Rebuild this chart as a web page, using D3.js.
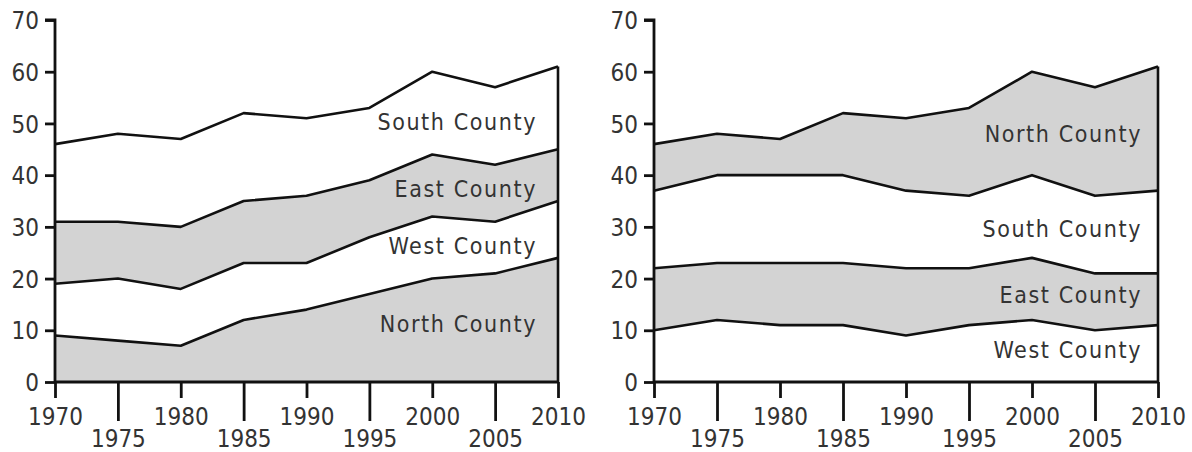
<!DOCTYPE html>
<html>
<head>
<meta charset="utf-8">
<script src="https://cdn.jsdelivr.net/npm/d3@7"></script>
<style>
  html, body { margin: 0; padding: 0; background: #fff; }
  svg { display: block; }
  text { font-family: "DejaVu Sans Condensed", "DejaVu Sans", sans-serif; fill: #333; }
</style>
</head>
<body>
<svg id="chart" width="1192" height="452"></svg>
<script>
const years = [1970, 1975, 1980, 1985, 1990, 1995, 2000, 2005, 2010];
const north = [9, 8, 7, 12, 14, 17, 20, 21, 24];
const west  = [10, 12, 11, 11, 9, 11, 12, 10, 11];
const east  = [12, 11, 12, 12, 13, 11, 12, 11, 10];
const south = [15, 17, 17, 17, 15, 14, 16, 15, 16];
const yTicks = [0, 10, 20, 30, 40, 50, 60, 70];

const seriesNames = {north: "North County", west: "West County", east: "East County", south: "South County"};
const rows = years.map((y, i) => ({year: y, north: north[i], west: west[i], east: east[i], south: south[i]}));

const leftOrder = ["north", "west", "east", "south"];
const rightOrder = ["west", "east", "south", "north"];

const svg = d3.select("#chart");
const GRAY = "#d3d3d3";

function drawPanel(x0, x1, order, fills, labelY, labelX) {
  const x = d3.scaleLinear().domain([1970, 2010]).range([x0, x1]);
  const y = d3.scaleLinear().domain([0, 70]).range([382, 20]);
  const g = svg.append("g");
  const stack = d3.stack().keys(order)(rows);

  const area = d3.area().x(d => x(d.data.year)).y0(d => y(d[0])).y1(d => y(d[1]));
  const line = d3.line().x(d => x(d.data.year)).y(d => y(d[1]));

  stack.forEach((s, i) => {
    g.append("path").attr("d", area(s)).attr("fill", fills[i]).attr("stroke", "none");
  });
  stack.forEach(s => {
    g.append("path").attr("d", line(s)).attr("fill", "none")
      .attr("stroke", "#111").attr("stroke-width", 2.6).attr("stroke-linejoin", "round");
  });
  // right edge
  const top = stack[stack.length - 1];
  const last = top[top.length - 1];
  g.append("line").attr("x1", x(2010)).attr("x2", x(2010))
    .attr("y1", y(last[1])).attr("y2", y(0))
    .attr("stroke", "#111").attr("stroke-width", 2.6);

  // y axis
  const ya = g.append("g").attr("transform", `translate(${x0},0)`)
    .call(d3.axisLeft(y).tickValues(yTicks).tickSize(10).tickPadding(6).tickFormat(d3.format("d")));
  ya.select(".domain").attr("stroke", "#111").attr("stroke-width", 2.8)
    .attr("d", `M-10,${y(70)}H0V${y(0)}`);
  ya.selectAll(".tick line").attr("stroke", "#111").attr("stroke-width", 2.8);
  ya.selectAll(".tick text").style("font-size", "24px").attr("fill", "#333").attr("dy", "0.36em");

  // x axis
  const xa = g.append("g").attr("transform", `translate(0,${y(0)})`)
    .call(d3.axisBottom(x).tickValues(years).tickSize(16).tickFormat(d3.format("d")));
  xa.select(".domain").attr("stroke", "#111").attr("stroke-width", 2.8).attr("d", `M${x0},0H${x1}`);
  xa.selectAll(".tick line").attr("stroke", "#111").attr("stroke-width", 2.8)
    .attr("y2", d => (d % 10 === 5) ? 39 : 16);
  xa.selectAll(".tick text").style("font-size", "24px").attr("fill", "#333")
    .attr("dy", 0).attr("y", d => (d % 10 === 5) ? 65 : 43);

  // labels
  order.forEach((k, i) => {
    g.append("text").attr("x", labelX).attr("y", labelY[i])
      .attr("text-anchor", "end").style("font-size", "23px").style("letter-spacing", "1.6px")
      .text(seriesNames[k]);
  });
}

drawPanel(55, 558, leftOrder, [GRAY, "#fff", GRAY, "#fff"], [332, 254, 197, 130], 537);
drawPanel(654, 1158, rightOrder, ["#fff", GRAY, "#fff", GRAY], [358, 303, 237, 142], 1142);
</script>
</body>
</html>
